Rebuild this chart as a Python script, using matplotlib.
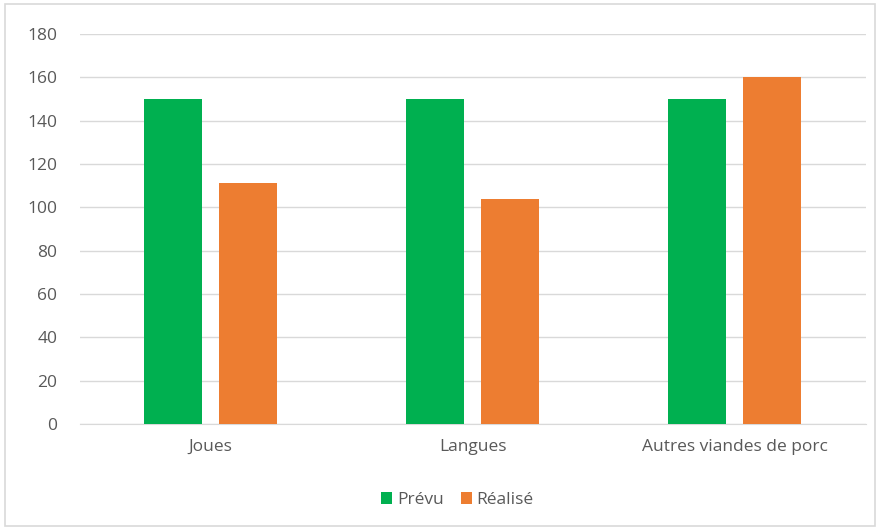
import matplotlib.pyplot as plt
import numpy as np
from matplotlib.patches import Rectangle

categories = ["Joues", "Langues", "Autres viandes de porc"]
prevu = [150, 150, 150]
realise = [111, 104, 160]

plt.rcParams['font.family'] = ['Open Sans', 'DejaVu Sans']
text_color = "#595959"

fig = plt.figure(figsize=(8.8, 5.3), dpi=100)
ax = fig.add_axes([0.0905, 0.2, 0.8935, 0.736])

x = np.arange(len(categories))
w = 0.222
ax.bar(x - 0.143, prevu, w, color="#00B050", label="Prévu", zorder=3)
ax.bar(x + 0.143, realise, w, color="#ED7D31", label="Réalisé", zorder=3)

ax.set_xlim(-0.5, 2.5)
ax.set_ylim(0, 180)
ax.set_yticks(range(0, 181, 20))
ax.set_xticks(x)
ax.set_xticklabels(categories)
ax.yaxis.grid(True, color="#D9D9D9", linewidth=1, zorder=0)
for s in ["top", "right", "left"]:
    ax.spines[s].set_visible(False)
ax.spines["bottom"].set_color("#D9D9D9")
ax.tick_params(axis="both", length=0, colors=text_color, labelsize=12.5)
ax.tick_params(axis="x", pad=11)
ax.tick_params(axis="y", pad=16)

fig.legend(loc="center", bbox_to_anchor=(0.52, 0.057), ncol=2, frameon=False,
           fontsize=12.5, labelcolor=text_color, handlelength=0.6, handleheight=0.7,
           handletextpad=0.3, columnspacing=1.0)

fig.patches.append(Rectangle((0.006, 0.008), 0.988, 0.984, transform=fig.transFigure,
                             fill=False, edgecolor="#D9D9D9", linewidth=1.2))

fig.savefig("out.png", dpi=100)
